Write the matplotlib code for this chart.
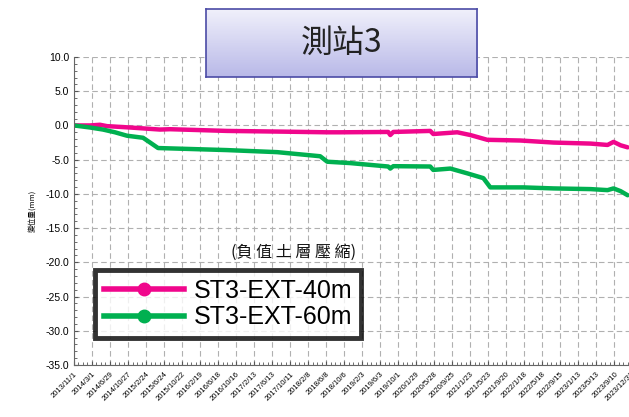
import datetime as dt
import numpy as np
import matplotlib.pyplot as plt
from matplotlib.lines import Line2D

plt.rcParams['font.family'] = ['Liberation Sans', 'Noto Sans CJK TC', 'DejaVu Sans']

# data
dates40 = ["2013-11-01", "2014-02-16", "2014-04-23", "2014-06-09", "2014-11-09", "2015-05-28",
           "2015-08-03", "2016-08-17", "2017-08-05", "2018-06-15", "2018-09-09", "2019-07-26",
           "2019-08-09", "2019-08-29", "2020-05-01", "2020-05-21", "2020-10-28", "2021-01-23",
           "2021-05-16", "2021-12-22", "2022-07-31", "2023-04-04", "2023-07-26", "2023-09-04",
           "2023-10-21", "2023-12-07"]
vals40 = [0.0, 0.0, 0.1, -0.1, -0.3, -0.6,
          -0.55, -0.8, -0.9, -1.0, -1.0, -0.95,
          -1.4, -0.95, -0.8, -1.25, -1.0, -1.4,
          -2.1, -2.2, -2.5, -2.65, -2.85, -2.4,
          -2.9, -3.2]

dates60 = ["2013-11-01", "2014-02-16", "2014-05-13", "2014-08-01", "2014-10-20", "2015-02-04",
           "2015-03-23", "2015-05-15", "2016-08-17", "2017-07-16", "2018-04-29", "2018-06-15",
           "2018-11-15", "2019-07-26", "2019-08-09", "2019-08-29", "2020-05-01", "2020-05-21",
           "2020-09-12", "2021-01-03", "2021-04-20", "2021-06-05", "2022-01-11", "2022-07-31",
           "2023-04-04", "2023-07-26", "2023-09-04", "2023-10-21", "2023-12-07"]
vals60 = [0.0, -0.3, -0.6, -1.0, -1.5, -1.8,
          -2.5, -3.3, -3.6, -3.9, -4.5, -5.3,
          -5.5, -6.0, -6.3, -5.95, -6.0, -6.5,
          -6.3, -7.0, -7.7, -9.05, -9.05, -9.2,
          -9.3, -9.45, -9.2, -9.6, -10.2]

names = ["ST3-EXT-40m", "ST3-EXT-60m"]
colors = ["#f0068c", "#00b050"]

start = dt.date(2013, 11, 1)
end = dt.date(2023, 12, 31)
tick_dates = [start + dt.timedelta(days=120 * k) for k in range(31)] + [end]
tick_labels = [f"{d.year}/{d.month}/{d.day}" for d in tick_dates]

to_d = lambda s: dt.date.fromisoformat(s)

fig = plt.figure(figsize=(6.29, 4.17), dpi=100)
ax = fig.add_axes([0.1176, 0.1247, 0.886, 0.7386])

ax.plot([to_d(s) for s in dates40], vals40, color=colors[0], lw=3.2, solid_capstyle='round')
ax.plot([to_d(s) for s in dates60], vals60, color=colors[1], lw=3.2, solid_capstyle='round')

ax.set_xlim(start, end)
ax.set_ylim(-35, 10)
ax.set_yticks(range(-35, 11, 5))
ax.set_yticklabels([f"{v:.1f}" for v in range(-35, 11, 5)], fontsize=7.5)
ax.yaxis.set_minor_locator(plt.MultipleLocator(1))
ax.set_xticks(tick_dates)
ax.set_xticklabels(tick_labels, rotation=45, ha='right', rotation_mode='anchor', fontsize=5.5)
ax.set_xticks([start + dt.timedelta(days=30 * k) for k in range(124)], minor=True)
ax.tick_params(which='both', direction='in', color='#555555', length=3)
ax.tick_params(which='minor', length=2)
ax.tick_params(axis='x', pad=4)
ax.grid(True, which='major', ls=(0, (5, 3)), color='#b0b0b0', lw=0.8)
for s in ['top', 'right']:
    ax.spines[s].set_visible(False)
for s in ['left', 'bottom']:
    ax.spines[s].set_color('#666666')
ax.set_ylabel("變位量(mm)", fontsize=5.5, family=['Noto Sans CJK TC'], labelpad=6)

# title box with a soft vertical gradient
tax = fig.add_axes([0.327, 0.815, 0.432, 0.163], zorder=5)
grad = np.linspace(0, 1, 64).reshape(-1, 1)
tax.imshow(grad, aspect='auto', cmap=plt.matplotlib.colors.LinearSegmentedColormap.from_list(
    'tb', ['#f0f0fb', '#b9b9e8']), extent=(0, 1, 0, 1), origin='upper')
tax.set_xlim(0, 1)
tax.set_ylim(0, 1)
tax.set_xticks([])
tax.set_yticks([])
for s in tax.spines.values():
    s.set_color('#4b4ba6')
    s.set_linewidth(1.2)
tax.text(0.5, 0.5, "測站3", ha='center', va='center', fontsize=23,
         family=['Noto Sans CJK TC'], color='#222222')

# note
fig.text(0.466, 0.395, "(負 值 土 層 壓 縮)", ha='center', va='center', fontsize=11.5,
         family=['Noto Sans CJK TC'], color='#111111')

handles = [Line2D([], [], color=c, lw=4, marker='o', markersize=9) for c in colors]
leg = ax.legend(handles, names, loc='upper left', bbox_to_anchor=(0.038, 0.308),
                fontsize=18, frameon=True, fancybox=False, handlelength=3.2,
                borderpad=0.35, labelspacing=0.1, handletextpad=0.4, borderaxespad=0)
leg.get_frame().set_edgecolor('black')
leg.get_frame().set_linewidth(3.5)

fig.savefig("out.png", dpi=100)
